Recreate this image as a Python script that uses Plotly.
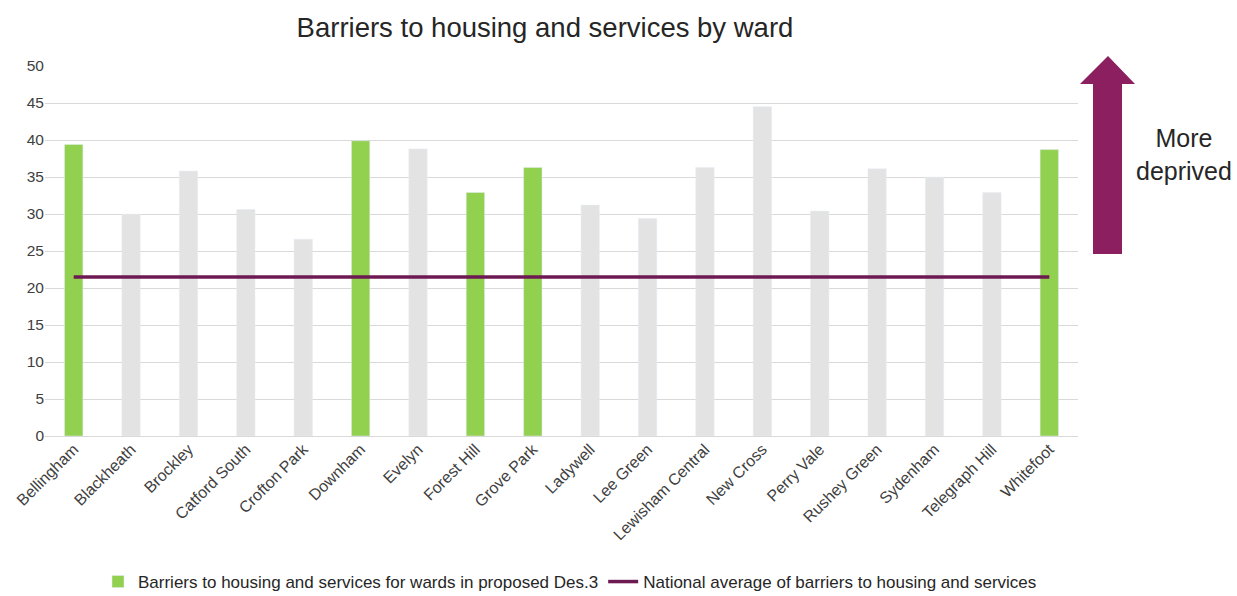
import plotly.graph_objects as go

wards = ["Bellingham", "Blackheath", "Brockley", "Catford South", "Crofton Park",
         "Downham", "Evelyn", "Forest Hill", "Grove Park", "Ladywell", "Lee Green",
         "Lewisham Central", "New Cross", "Perry Vale", "Rushey Green", "Sydenham",
         "Telegraph Hill", "Whitefoot"]
barrier_scores = [39.4, 30.0, 35.8, 30.6, 26.6, 39.9, 38.8, 32.9, 36.3, 31.2, 29.4,
                  36.3, 44.5, 30.4, 36.1, 35.0, 32.9, 38.7]
proposed_des3 = ["Bellingham", "Downham", "Forest Hill", "Grove Park", "Whitefoot"]
national_average = 21.5
y_ticks = [0, 5, 10, 15, 20, 25, 30, 35, 40, 45, 50]

GREEN = "#92D050"
GREY = "#E3E3E3"
PURPLE_LINE = "#6E1A52"
PURPLE_ARROW = "#8C1F5F"

W, H = 1237, 596
L, R, T, B = 45, 159, 66, 160
pw, ph = W - L - R, H - T - B


def px(x):
    return (x - L) / pw


def py(y):
    return (H - B - y) / ph


des_vals = [v if w in proposed_des3 else None for w, v in zip(wards, barrier_scores)]
other_vals = [None if w in proposed_des3 else v for w, v in zip(wards, barrier_scores)]

fig = go.Figure()
fig.add_trace(go.Bar(x=wards, y=other_vals, marker_color=GREY, showlegend=False,
                     name="Other wards"))
fig.add_trace(go.Bar(x=wards, y=des_vals, marker_color=GREEN,
                     name="Barriers to housing and services for wards in proposed Des.3"))
fig.add_trace(go.Scatter(x=wards, y=[national_average] * len(wards), mode="lines",
                         line=dict(color=PURPLE_LINE, width=3.5),
                         name="National average of barriers to housing and services"))

# arrow shape (pixel geometry converted to paper)
ax_l, ax_r, hx_l, hx_r, tip_x = 1093, 1122, 1080, 1135, 1108
tip_y, head_y, bot_y = 56, 84, 254
path = (f"M {px(ax_l)} {py(bot_y)} L {px(ax_l)} {py(head_y)} L {px(hx_l)} {py(head_y)} "
        f"L {px(tip_x)} {py(tip_y)} L {px(hx_r)} {py(head_y)} L {px(ax_r)} {py(head_y)} "
        f"L {px(ax_r)} {py(bot_y)} Z")

fig.update_layout(
    width=W, height=H,
    margin=dict(l=L, r=R, t=T, b=B, autoexpand=False),
    paper_bgcolor="white", plot_bgcolor="white",
    barmode="overlay", bargap=0.68,
    font=dict(family="Liberation Sans, Arial, sans-serif", color="#404040", size=15),
    title=dict(text="Barriers to housing and services by ward", xref="container",
               x=545 / W, xanchor="center", y=1 - 27 / H, yanchor="middle",
               font=dict(size=27.5, color="#262626")),
    xaxis=dict(tickangle=-45, tickfont=dict(size=16, color="#404040"), showgrid=False,
               showline=False, ticks="", range=[-0.5, len(wards) - 0.5], automargin=False),
    yaxis=dict(range=[0, 50], tickvals=y_ticks, showgrid=True, gridcolor="#D9D9D9",
               gridwidth=1.3, zeroline=True, zerolinecolor="#D9D9D9", zerolinewidth=1.3,
               ticks="", tickfont=dict(size=15.5, color="#404040"), fixedrange=True,
               automargin=False),
    legend=dict(orientation="h", x=px(570), xanchor="center", y=py(582), yanchor="middle",
                font=dict(size=17, color="#262626"), traceorder="normal",
                itemwidth=30, tracegroupgap=0),
    shapes=[dict(type="path", xref="paper", yref="paper", path=path,
                 fillcolor=PURPLE_ARROW, line=dict(width=0))],
    annotations=[dict(text="More<br>deprived", xref="paper", yref="paper",
                      x=px(1184), y=py(154), xanchor="center", yanchor="middle",
                      showarrow=False, font=dict(size=25, color="#262626"))],
)

fig.write_html("out.html", config={"displayModeBar": False},
               post_script="document.body.style.margin='0';")
